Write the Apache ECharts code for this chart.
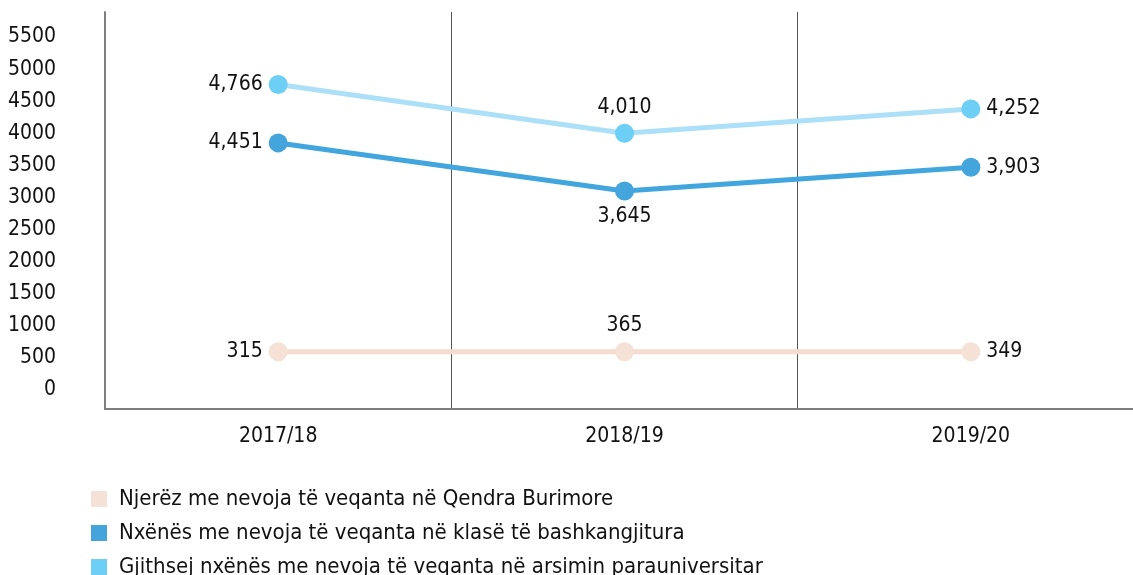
<!DOCTYPE html>
<html>
<head>
<meta charset="utf-8">
<script src="https://cdn.jsdelivr.net/npm/echarts@6/dist/echarts.min.js"></script>
<style>
  html, body { margin: 0; padding: 0; background: #fff; }
  #chart { width: 1133px; height: 575px; }
</style>
</head>
<body>
<div id="chart"></div>
<script>
const categories = ["2017/18", "2018/19", "2019/20"];

// plotted positions (as drawn in the picture) and the printed labels
const resourceValues = [595, 595, 595];
const resourceLabels = ["315", "365", "349"];
const inclusiveValues = [3850, 3100, 3470];
const inclusiveLabels = ["4,451", "3,645", "3,903"];
const totalValues = [4760, 4000, 4380];
const totalLabels = ["4,766", "4,010", "4,252"];

const seriesNames = [
  "Njerëz me nevoja të veqanta në Qendra Burimore",
  "Nxënës me nevoja të veqanta në klasë të bashkangjitura",
  "Gjithsej nxënës me nevoja të veqanta në arsimin parauniversitar",
];

const yMin = 0;
const yMax = 5500;
const yStep = 500;

const FONT = "'DejaVu Sans Condensed', 'DejaVu Sans', sans-serif";
const FS = 21;

const myChart = echarts.init(document.getElementById("chart"));

// builds point list with label placement for each year
const withLabels = (values, labels, positions) =>
  values.map((v, i) => ({
    value: v,
    label: { position: positions[i], formatter: labels[i] },
  }));

const lineSeries = (name, values, labels, positions, lineColor, dotColor) => ({
  name: name,
  type: "line",
  xAxisIndex: 1,
  yAxisIndex: 1,
  data: withLabels(values, labels, positions),
  symbol: "circle",
  symbolSize: 19,
  lineStyle: { color: lineColor, width: 5 },
  itemStyle: { color: dotColor },
  label: {
    show: true,
    distance: 6,
    color: "#111",
    fontSize: FS,
    fontFamily: FONT,
  },
  emphasis: { disabled: true },
});

const option = {
  animation: false,
  backgroundColor: "#fff",
  grid: [
    // frame: axis line + year separators (runs past the right edge)
    { left: 105, width: 1039, top: 12, bottom: 166, outerBoundsMode: "none" },
    // data area: 0..5500
    { left: 105, width: 1039, top: 37, bottom: 185, outerBoundsMode: "none" },
  ],
  xAxis: [
    {
      gridIndex: 0,
      type: "category",
      data: categories,
      boundaryGap: true,
      axisLine: { show: true, lineStyle: { color: "#7f7f7f", width: 2 } },
      axisTick: { show: false },
      axisLabel: { color: "#111", fontSize: FS, fontFamily: FONT, margin: 17 },
      splitLine: { show: true, lineStyle: { color: "#555", width: 1 } },
    },
    {
      gridIndex: 1,
      type: "category",
      data: categories,
      boundaryGap: true,
      show: false,
    },
  ],
  yAxis: [
    {
      gridIndex: 0,
      type: "value",
      axisLine: { show: true, lineStyle: { color: "#7f7f7f", width: 2 } },
      axisTick: { show: false },
      axisLabel: { show: false },
      splitLine: { show: false },
    },
    {
      gridIndex: 1,
      type: "value",
      min: yMin,
      max: yMax,
      interval: yStep,
      axisLine: { show: false },
      axisTick: { show: false },
      splitLine: { show: false },
      axisLabel: {
        color: "#111",
        fontSize: FS,
        fontFamily: FONT,
        margin: 49,
        formatter: (v) => String(v),
      },
    },
  ],
  legend: {
    orient: "vertical",
    left: 91,
    top: 483,
    height: 100,
    padding: 0,
    itemWidth: 16,
    itemHeight: 16,
    itemGap: 2,
    icon: "rect",
    data: seriesNames,
    textStyle: {
      color: "#111",
      fontSize: 22,
      fontFamily: FONT,
      lineHeight: 18,
      padding: [0, 0, 14, 7],
    },
  },
  series: [
    lineSeries(seriesNames[0], resourceValues, resourceLabels,
      ["left", "top", "right"], "#f6dcd0", "#f6e1d7"),
    lineSeries(seriesNames[1], inclusiveValues, inclusiveLabels,
      ["left", "bottom", "right"], "#41a5de", "#44a4dc"),
    lineSeries(seriesNames[2], totalValues, totalLabels,
      ["left", "top", "right"], "#abe0f8", "#6dcff6"),
  ],
};

option && myChart.setOption(option);
</script>
</body>
</html>
